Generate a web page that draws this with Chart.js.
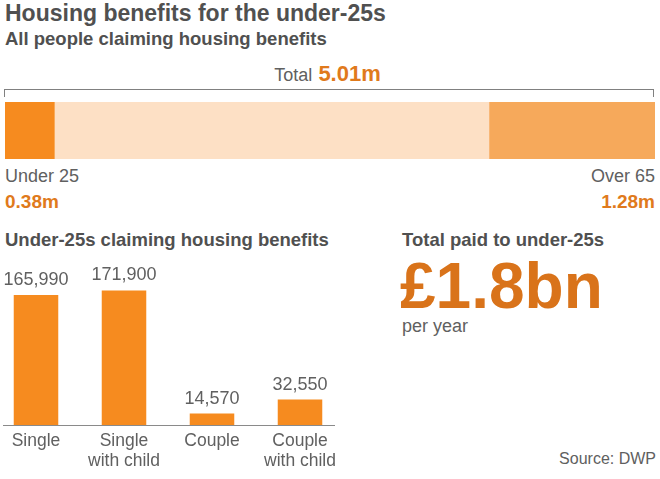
<!DOCTYPE html>
<html>
<head>
<meta charset="utf-8">
<script src="https://cdn.jsdelivr.net/npm/chart.js@4.4.1/dist/chart.umd.min.js"></script>
<style>
  html, body { margin: 0; padding: 0; background: #fff; }
  body { width: 660px; height: 479px; position: relative; overflow: hidden;
         font-family: "Liberation Sans", Arial, Helvetica, sans-serif; color: #606060; }
  .t { position: absolute; white-space: nowrap; line-height: 1; }
  .b { font-weight: bold; }
  .orange { color: #e07a1c; }
  #bracket { position: absolute; left: 4px; top: 89px; width: 650px; height: 8px;
             border: 1.5px solid #808080; border-bottom: none; box-sizing: border-box; }
  #axis { position: absolute; left: 3px; top: 425px; width: 332px; height: 1px; background: #8a8a8a; }
  #topBox { position: absolute; left: 5px; top: 102px; width: 650px; height: 57px; }
  #barBox { position: absolute; left: -8px; top: 250px; width: 352px; height: 230px; }
</style>
</head>
<body>
<div class="t b" style="left:5px; top:2px; font-size:23px; color:#505050;">Housing benefits for the under-25s</div>
<div class="t b" style="left:5px; top:30px; font-size:18.5px; color:#505050;">All people claiming housing benefits</div>

<div class="t" style="left:0; width:655px; text-align:center; top:63px; font-size:22px; line-height:22px;">
  <span style="font-size:18px;">Total</span> <span class="b orange" id="totalLabel"></span>
</div>
<div id="bracket"></div>
<div id="topBox"><canvas id="shareChart"></canvas></div>

<div class="t" style="left:5px; top:167px; font-size:18px;">Under 25</div>
<div class="t b orange" style="left:5px; top:192px; font-size:19px;" id="under25Label"></div>
<div class="t" style="right:5px; top:167px; font-size:18px; text-align:right;">Over 65</div>
<div class="t b orange" style="right:5px; top:192px; font-size:19px; text-align:right;" id="over65Label"></div>

<div class="t b" style="left:5px; top:231px; font-size:18.5px; color:#505050;">Under-25s claiming housing benefits</div>
<div id="axis"></div>
<div id="barBox"><canvas id="typeChart"></canvas></div>

<div class="t b" style="left:402px; top:231px; font-size:18.5px; color:#505050;">Total paid to under-25s</div>
<div class="t b" style="left:400px; top:254px; font-size:64px; color:#d9731a;">£1.8bn</div>
<div class="t" style="left:402px; top:317px; font-size:18px;">per year</div>
<div class="t" style="right:4px; top:451px; font-size:16px; text-align:right;">Source: DWP</div>

<script>
// All housing benefit claimants, millions
const ageGroups = ['Under 25', '25 to 65', 'Over 65'];
const claimants = [0.38, 3.35, 1.28];
const groupColours = ['#f68b1f', '#fde0c5', '#f6a95b'];

// Under-25s by household type
const householdTypes = [['Single'], ['Single', 'with child'], ['Couple'], ['Couple', 'with child']];
const under25Claimants = [165990, 171900, 14570, 32550];

const fontFamily = '"Liberation Sans", Arial, Helvetica, sans-serif';
Chart.defaults.font.family = fontFamily;

const total = claimants.reduce((a, b) => a + b, 0);
document.getElementById('totalLabel').textContent = total.toFixed(2) + 'm';
document.getElementById('under25Label').textContent = claimants[0].toFixed(2) + 'm';
document.getElementById('over65Label').textContent = claimants[2].toFixed(2) + 'm';

// Stacked share bar
new Chart(document.getElementById('shareChart'), {
  type: 'bar',
  data: {
    labels: ['All'],
    datasets: ageGroups.map((g, i) => ({
      label: g,
      data: [claimants[i]],
      backgroundColor: groupColours[i],
      borderWidth: 0,
      barPercentage: 1,
      categoryPercentage: 1
    }))
  },
  options: {
    indexAxis: 'y',
    responsive: true,
    maintainAspectRatio: false,
    animation: false,
    layout: { padding: 0 },
    scales: {
      x: { stacked: true, display: false, min: 0, max: total },
      y: { stacked: true, display: false }
    },
    plugins: { legend: { display: false }, tooltip: { enabled: false } }
  }
});

// Value labels above bars and category labels under the axis
const barLabels = {
  id: 'barLabels',
  afterDatasetsDraw(chart) {
    const ctx = chart.ctx;
    const meta = chart.getDatasetMeta(0);
    const bottom = chart.chartArea.bottom;
    ctx.save();
    ctx.fillStyle = '#606060';
    ctx.textAlign = 'center';
    ctx.textBaseline = 'alphabetic';
    meta.data.forEach((bar, i) => {
      ctx.font = '18px ' + fontFamily;
      ctx.fillText(under25Claimants[i].toLocaleString('en-GB'), bar.x, bar.y - 10);
      ctx.font = '17.5px ' + fontFamily;
      householdTypes[i].forEach((line, j) => {
        ctx.fillText(line, bar.x, bottom + 21 + j * 20);
      });
    });
    ctx.restore();
  }
};

new Chart(document.getElementById('typeChart'), {
  type: 'bar',
  data: {
    labels: householdTypes.map(l => l.join(' ')),
    datasets: [{
      label: 'Under-25s',
      data: under25Claimants,
      backgroundColor: '#f68b1f',
      borderWidth: 0,
      barPercentage: 0.506,
      categoryPercentage: 1
    }]
  },
  options: {
    responsive: true,
    maintainAspectRatio: false,
    animation: false,
    layout: { padding: { top: 18.4, bottom: 55, left: 0, right: 0 } },
    scales: {
      x: { display: false },
      y: { display: false, min: 0, max: 200000 }
    },
    plugins: { legend: { display: false }, tooltip: { enabled: false } }
  },
  plugins: [barLabels]
});
</script>
</body>
</html>
